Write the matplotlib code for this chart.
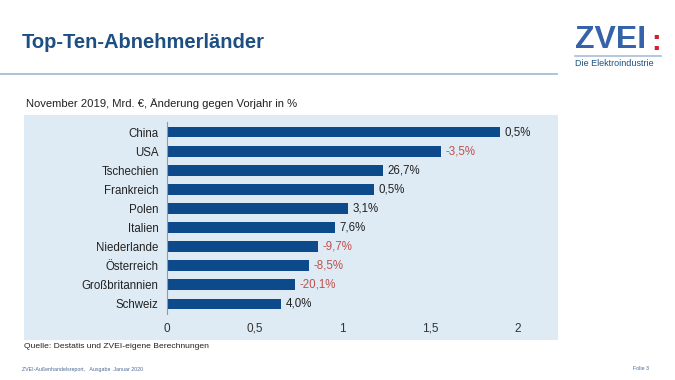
import matplotlib
matplotlib.use("Agg")
import matplotlib.pyplot as plt
from matplotlib.patches import Rectangle
from matplotlib.lines import Line2D

# Data (Mrd. EUR, November 2019) and change vs. previous year
countries = ["China", "USA", "Tschechien", "Frankreich", "Polen", "Italien",
             "Niederlande", "Österreich", "Großbritannien", "Schweiz"]
values = [1.90, 1.56, 1.23, 1.18, 1.03, 0.96, 0.86, 0.81, 0.73, 0.65]
changes = ["0,5%", "-3,5%", "26,7%", "0,5%", "3,1%", "7,6%",
           "-9,7%", "-8,5%", "-20,1%", "4,0%"]
xticks = [0, 0.5, 1, 1.5, 2]
xticklabels = ["0", "0,5", "1", "1,5", "2"]

W, H = 675, 380
plt.rcParams['font.family'] = ['Liberation Sans', 'DejaVu Sans']
fig = plt.figure(figsize=(W / 100, H / 100), dpi=100)

def fx(px):
    return px / W

def fy(py):
    return 1 - py / H

# light blue panel behind the chart
fig.patches.append(Rectangle((fx(24), fy(340)), fx(558) - fx(24), fy(115) - fy(340),
                             transform=fig.transFigure, facecolor="#deebf5",
                             edgecolor="none", zorder=-1))

# title + rule
fig.text(fx(22), fy(42), "Top-Ten-Abnehmerländer", fontsize=14.5, fontweight="bold",
         color="#1d4f82", va="center", ha="left")
fig.add_artist(Line2D([0, fx(557)], [fy(74), fy(74)], transform=fig.transFigure,
                      color="#a9bdd6", lw=1.3))

# logo
fig.text(fx(575), fy(40), "ZVEI", fontsize=23, color="#3562a8", va="center", ha="left",
         fontweight="bold")
fig.text(fx(651), fy(42), ":", fontsize=21, color="#d0202f", va="center", ha="left",
         fontweight="bold")
fig.add_artist(Line2D([fx(575), fx(661)], [fy(56), fy(56)], transform=fig.transFigure,
                      color="#a9bdd6", lw=1.2))
fig.text(fx(575), fy(64), "Die Elektroindustrie", fontsize=6.5, color="#1d4f82",
         va="center", ha="left")

# subtitle, source, footer
fig.text(fx(26), fy(104), "November 2019, Mrd. €, Änderung gegen Vorjahr in %",
         fontsize=8.1, color="#222222", va="center", ha="left")
fig.text(fx(24), fy(347), "Quelle: Destatis und ZVEI-eigene Berechnungen",
         fontsize=6.1, color="#222222", va="center", ha="left")
fig.text(fx(22), fy(370), "ZVEI-Außenhandelsreport,   Ausgabe  Januar 2020",
         fontsize=3.8, color="#4a6a90", va="center", ha="left")
fig.text(fx(633), fy(369), "Folie 3", fontsize=3.8, color="#4a6a90", va="center", ha="left")

# bar chart
ax = fig.add_axes([fx(167), fy(313.5), fx(518) - fx(167), fy(122.5) - fy(313.5)])
ax.set_zorder(2)
ax.patch.set_alpha(0)
ypos = list(range(len(countries)))
ax.barh(ypos, values, height=0.57, color="#0d4a8c", zorder=2)
ax.set_xlim(0, 2)
ax.set_ylim(len(countries) - 0.5, -0.5)
ax.set_yticks(ypos)
ax.set_yticklabels(countries, fontsize=8.3, color="#222222")
ax.set_xticks(xticks)
ax.set_xticklabels([])
ax.tick_params(axis="both", length=0)
ax.tick_params(axis="y", pad=6)
for side in ["top", "right", "bottom"]:
    ax.spines[side].set_visible(False)
ax.spines["left"].set_color("#999999")
ax.spines["left"].set_linewidth(0.8)

# x tick labels on a common baseline
for xt, lab in zip(xticks, xticklabels):
    ax.text(xt, -0.095, lab, transform=ax.get_xaxis_transform(), fontsize=8.5,
            color="#333333", ha="center", va="baseline")

for y, v, c in zip(ypos, values, changes):
    col = "#c0504d" if c.startswith("-") else "#222222"
    ax.text(v + 0.025, y, c, fontsize=8.3, color=col, va="center", ha="left")

fig.savefig("out.png", dpi=100)
